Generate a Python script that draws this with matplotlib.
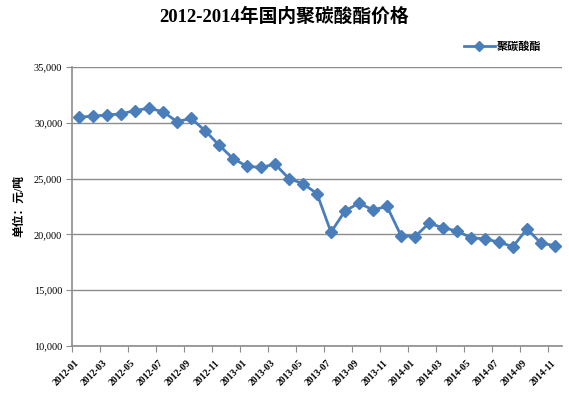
import matplotlib
matplotlib.use("Agg")
import matplotlib.pyplot as plt
from matplotlib.lines import Line2D

months = [f"{y}-{m:02d}" for y in (2012, 2013, 2014) for m in range(1, 13)][:35]
prices = [30500, 30600, 30700, 30800, 31100, 31300, 31000, 30100, 30400, 29300,
          28000, 26800, 26100, 26000, 26300, 25000, 24550, 23650, 20200, 22100,
          22800, 22200, 22500, 19900, 19800, 21000, 20600, 20300, 19700, 19600,
          19300, 18900, 20500, 19200, 19000]
yticks = [10000, 15000, 20000, 25000, 30000, 35000]
series_name = "聚碳酸酯"
title = "2012-2014年国内聚碳酸酯价格"
ylabel = "单位：元/吨"

cjk = ['Liberation Serif', 'Noto Sans CJK SC']
plt.rcParams['font.family'] = cjk

fig = plt.figure(figsize=(5.69, 3.99), dpi=100)
ax = fig.add_axes([72/569, 1-346/399, (562-72)/569, (346-67)/399])

color = '#4A7EBB'
x = list(range(len(prices)))
ax.plot(x, prices, color=color, lw=2.0, marker='D', ms=6, mec=color, mfc=color)

ax.set_xlim(-0.5, len(prices) - 0.5)
ax.set_ylim(10000, 35000)
ax.set_yticks(yticks)
ax.set_yticklabels([f"{v:,}" for v in yticks], fontsize=7.5)
ax.grid(axis='y', color='#8C8C8C', lw=1.0)
ax.set_axisbelow(True)

# major ticks at category boundaries, labels near category centers
ax.set_xticks([i - 0.5 for i in range(0, len(prices) + 1, 2)])
ax.set_xticklabels([])
ax.set_xticks([i - 0.3 for i in range(0, len(prices), 2)], minor=True)
ax.set_xticklabels(months[::2], minor=True, rotation=45, ha='right',
                   rotation_mode='anchor', fontsize=7, fontweight='bold')
ax.tick_params(axis='x', which='minor', length=0, pad=9)
ax.tick_params(axis='x', which='major', length=4, color='#8C8C8C', direction='out')
ax.tick_params(axis='y', length=4, color='#8C8C8C', direction='out', pad=3)

for s in ['top', 'right']:
    ax.spines[s].set_visible(False)
for s in ['left', 'bottom']:
    ax.spines[s].set_color('#8C8C8C')
    ax.spines[s].set_linewidth(1.2)

ax.set_ylabel(ylabel, fontsize=8.5, fontweight='bold', labelpad=6)

fig.text(0.5, 1 - 17/399, title, ha='center', va='center', fontsize=13.5,
         fontweight='bold')

handle = Line2D([], [], color=color, lw=2.0, marker='D', ms=5, mec=color, mfc=color)
fig.legend([handle], [series_name], loc='center right',
           bbox_to_anchor=(547/569, 1 - 47/399), frameon=False,
           prop={'size': 8, 'weight': 'bold', 'family': cjk},
           handlelength=2.8, handletextpad=0.2, borderpad=0)

fig.savefig('out.png', dpi=100)
